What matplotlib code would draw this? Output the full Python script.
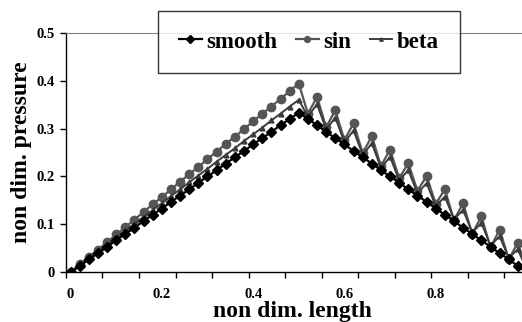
import matplotlib
matplotlib.use("Agg")
import matplotlib.pyplot as plt
from matplotlib.ticker import FixedLocator, NullFormatter, FixedFormatter

plt.rcParams['font.family'] = ['Liberation Serif', 'DejaVu Serif']
plt.rcParams['font.weight'] = 'bold'

# non dim. length, step 0.02
x = [0.00, 0.02, 0.04, 0.06, 0.08, 0.10, 0.12, 0.14, 0.16, 0.18,
     0.20, 0.22, 0.24, 0.26, 0.28, 0.30, 0.32, 0.34, 0.36, 0.38,
     0.40, 0.42, 0.44, 0.46, 0.48, 0.50, 0.52, 0.54, 0.56, 0.58,
     0.60, 0.62, 0.64, 0.66, 0.68, 0.70, 0.72, 0.74, 0.76, 0.78,
     0.80, 0.82, 0.84, 0.86, 0.88, 0.90, 0.92, 0.94, 0.96, 0.98, 1.00]

smooth = [0.000, 0.013, 0.027, 0.040, 0.053, 0.067, 0.080, 0.093, 0.107, 0.120,
          0.133, 0.147, 0.160, 0.173, 0.187, 0.200, 0.213, 0.227, 0.240, 0.253,
          0.267, 0.280, 0.293, 0.307, 0.320, 0.333, 0.320, 0.307, 0.293, 0.280,
          0.267, 0.253, 0.240, 0.227, 0.213, 0.200, 0.187, 0.173, 0.160, 0.147,
          0.133, 0.120, 0.107, 0.093, 0.080, 0.067, 0.053, 0.040, 0.027, 0.013, 0.000]

sin = [0.000, 0.017, 0.032, 0.047, 0.063, 0.079, 0.094, 0.110, 0.126, 0.142,
       0.157, 0.173, 0.189, 0.205, 0.220, 0.236, 0.252, 0.268, 0.283, 0.299,
       0.315, 0.331, 0.346, 0.362, 0.378, 0.394, 0.331, 0.366, 0.303, 0.338,
       0.276, 0.311, 0.249, 0.284, 0.222, 0.256, 0.196, 0.228, 0.170, 0.201,
       0.143, 0.173, 0.109, 0.144, 0.080, 0.117, 0.052, 0.089, 0.027, 0.062, 0.000]

beta = [0.000, 0.015, 0.029, 0.044, 0.058, 0.072, 0.087, 0.101, 0.116, 0.130,
        0.144, 0.159, 0.173, 0.188, 0.202, 0.216, 0.231, 0.245, 0.259, 0.274,
        0.288, 0.302, 0.317, 0.331, 0.346, 0.360, 0.325, 0.351, 0.298, 0.323,
        0.271, 0.296, 0.245, 0.269, 0.218, 0.241, 0.192, 0.213, 0.165, 0.186,
        0.138, 0.158, 0.111, 0.130, 0.083, 0.103, 0.056, 0.075, 0.030, 0.048, 0.003]

x_labels = ['0', '0.2', '0.4', '0.6', '0.8']
x_label_pos = [0.0, 0.2, 0.4, 0.6, 0.8]
y_ticks = [0, 0.1, 0.2, 0.3, 0.4, 0.5]
y_labels = ['0', '0.1', '0.2', '0.3', '0.4', '0.5']

fig = plt.figure(figsize=(5.22, 3.22), dpi=100)
ax = fig.add_axes([0.1264, 0.1543, 0.8736, 0.7441])

l1, = ax.plot(x, smooth, color='black', lw=1.6, marker='D', ms=5.5, zorder=5, label='smooth')
l2, = ax.plot(x, sin, color='#555555', lw=1.6, marker='o', ms=6, zorder=3, label='sin')
l3, = ax.plot(x, beta, color='#3c3c3c', lw=1.4, marker='^', ms=3.5, zorder=4, label='beta')

ax.set_xlim(-0.01, 0.989)
ax.set_ylim(0, 0.5)

# tick marks between categories every 4 points, labels every 10 points
ax.xaxis.set_major_locator(FixedLocator([-0.01 + 0.08 * k for k in range(13)]))
ax.xaxis.set_major_formatter(NullFormatter())
ax.xaxis.set_minor_locator(FixedLocator(x_label_pos))
ax.xaxis.set_minor_formatter(FixedFormatter(x_labels))
ax.tick_params(axis='x', which='major', direction='out', length=4, width=1, color='black')
ax.tick_params(axis='x', which='minor', length=0, pad=11, labelsize=10.5)

ax.set_yticks(y_ticks)
ax.set_yticklabels(y_labels)
ax.tick_params(axis='y', direction='out', length=4, width=1, pad=4, labelsize=10.5)

ax.spines['right'].set_visible(False)
ax.spines['top'].set_color('#808080')
ax.spines['left'].set_linewidth(1)
ax.spines['bottom'].set_linewidth(1)

ax.text(0.497, -0.164, 'non dim. length', transform=ax.transAxes, ha='center', va='center',
        fontsize=17, fontweight='bold')
ax.text(-0.097, 0.503, 'non dim. pressure', transform=ax.transAxes, ha='center', va='center',
        rotation=90, fontsize=17, fontweight='bold')

leg = fig.legend(handles=[l1, l2, l3], loc='center', bbox_to_anchor=(0.592, 0.8696), ncol=3,
                 fontsize=16.5, frameon=True, fancybox=False, edgecolor='black',
                 handlelength=1.0, handletextpad=0.2, columnspacing=0.8, borderpad=0.9,
                 markerscale=0.7)
leg.get_frame().set_linewidth(1)
leg.set_zorder(10)

fig.savefig('out.png', dpi=100)
